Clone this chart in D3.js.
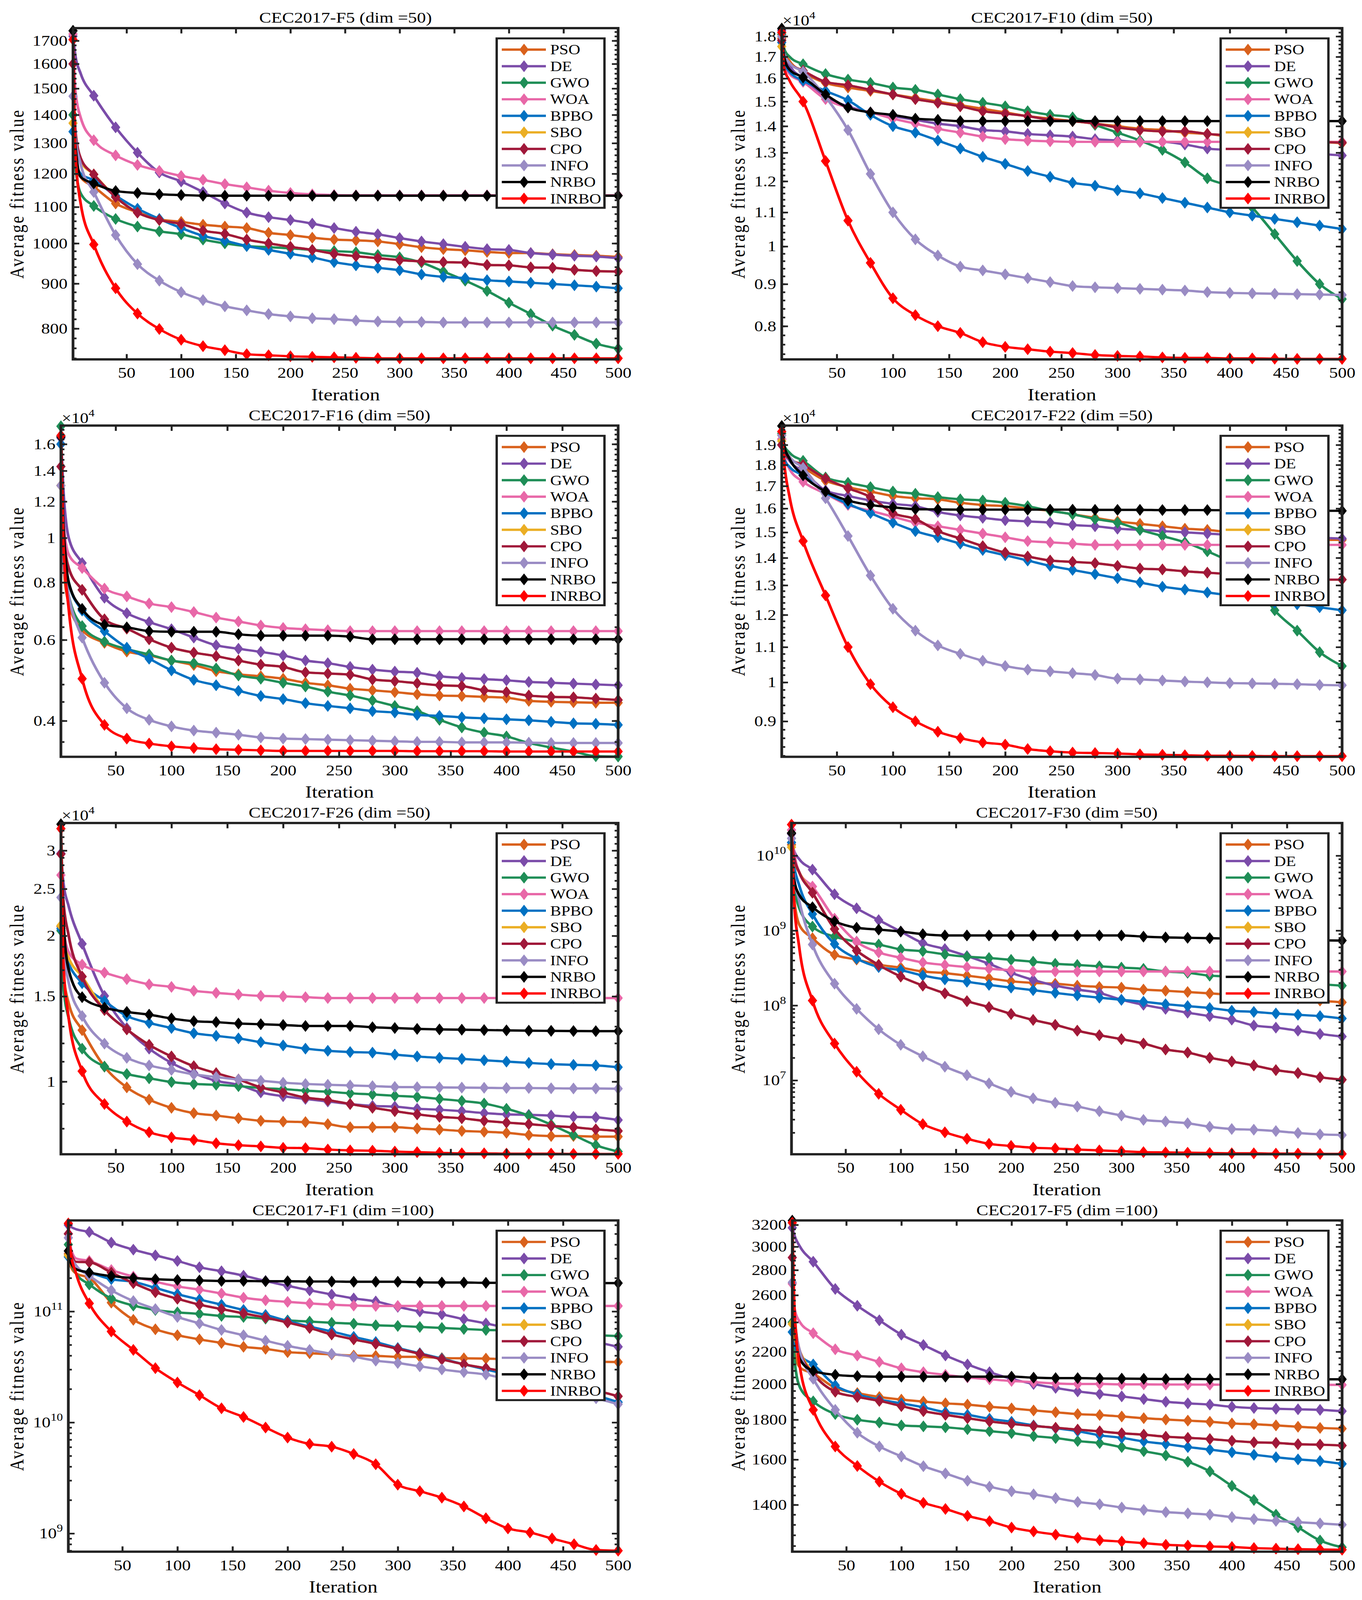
<!DOCTYPE html>
<html>
<head>
<meta charset="utf-8">
<script src="https://cdn.jsdelivr.net/npm/d3@7.9.0/dist/d3.min.js"></script>
<style>
  html, body { margin: 0; padding: 0; width: 100%; height: 100%; overflow: hidden; background: #fff; }
  #chart { display: block; width: 100vw; height: 100vh; }
  svg text { font-family: "Liberation Serif", "Times New Roman", serif; fill: #000; }
</style>
</head>
<body>
<svg id="chart" viewBox="0 0 3488 4835" preserveAspectRatio="none"></svg>
<script>
const iterations = [1, 3, 8, 20, 40, 60, 80, 100, 120, 140, 160, 180, 200, 220, 240, 260, 280, 300, 320, 340, 360, 380, 400, 420, 440, 460, 480, 500];
const algorithms = ['PSO', 'DE', 'GWO', 'WOA', 'BPBO', 'SBO', 'CPO', 'INFO', 'NRBO', 'INRBO'];
const titles = ['CEC2017-F5 (dim =50)', 'CEC2017-F10 (dim =50)', 'CEC2017-F16 (dim =50)', 'CEC2017-F22 (dim =50)',
  'CEC2017-F26 (dim =50)', 'CEC2017-F30 (dim =50)', 'CEC2017-F1 (dim =100)', 'CEC2017-F5 (dim =100)'];
const xTicks = [50, 100, 150, 200, 250, 300, 350, 400, 450, 500];

const yDomains = [[738, 1757], [7290, 18420], [3340, 17560], [8176, 20020], [7080, 34200], [1.03e6, 2.73e10], [6.85e8, 6.6e11], [1219, 3242]];
const yTicks = [
  [800, 900, 1000, 1100, 1200, 1300, 1400, 1500, 1600, 1700],
  [8000, 9000, 10000, 11000, 12000, 13000, 14000, 15000, 16000, 17000, 18000],
  [4000, 6000, 8000, 10000, 12000, 14000, 16000],
  [9000, 10000, 11000, 12000, 13000, 14000, 15000, 16000, 17000, 18000, 19000],
  [10000, 15000, 20000, 25000, 30000],
  [1e7, 1e8, 1e9, 1e10],
  [1e9, 1e10, 1e11],
  [1400, 1600, 1800, 2000, 2200, 2400, 2600, 2800, 3000, 3200]
];
const yTickLabels = [
  ['800', '900', '1000', '1100', '1200', '1300', '1400', '1500', '1600', '1700'],
  ['0.8', '0.9', '1', '1.1', '1.2', '1.3', '1.4', '1.5', '1.6', '1.7', '1.8'],
  ['0.4', '0.6', '0.8', '1', '1.2', '1.4', '1.6'],
  ['0.9', '1', '1.1', '1.2', '1.3', '1.4', '1.5', '1.6', '1.7', '1.8', '1.9'],
  ['1', '1.5', '2', '2.5', '3'],
  ['10^7', '10^8', '10^9', '10^10'],
  ['10^9', '10^10', '10^11'],
  ['1400', '1600', '1800', '2000', '2200', '2400', '2600', '2800', '3000', '3200']
];
const yExponent = [null, 4, 4, 4, 4, null, null, null];

const f5_d50 = {
  PSO: [1400, 1250, 1190, 1160, 1110, 1085, 1065, 1058, 1050, 1045, 1041, 1028, 1022, 1015, 1010, 1008, 1005, 998, 990, 985, 982, 978, 975, 975, 972, 970, 968, 965],
  DE: [1720, 1640, 1560, 1472, 1355, 1268, 1204, 1176, 1144, 1110, 1084, 1071, 1063, 1053, 1041, 1031, 1024, 1014, 1005, 998, 991, 985, 983, 975, 971, 968, 966, 962],
  GWO: [1400, 1230, 1140, 1103, 1066, 1045, 1032, 1024, 1010, 1000, 993, 990, 987, 983, 980, 977, 970, 964, 951, 929, 907, 883, 856, 831, 806, 787, 769, 759],
  WOA: [1730, 1500, 1390, 1310, 1259, 1228, 1209, 1193, 1181, 1168, 1158, 1148, 1141, 1137, 1135, 1134, 1134, 1134, 1134, 1134, 1134, 1134, 1134, 1134, 1134, 1134, 1134, 1134],
  BPBO: [1340, 1250, 1200, 1180, 1133, 1095, 1066, 1041, 1020, 1007, 993, 983, 973, 964, 952, 944, 938, 932, 922, 916, 913, 908, 905, 902, 899, 896, 893, 889],
  SBO: [1370, 1290, 1240, 1198, 1129, 1084, 1063, 1052, 1034, 1025, 1010, 1000, 991, 983, 973, 967, 962, 957, 954, 952, 951, 945, 944, 939, 938, 933, 930, 929],
  CPO: [1600, 1350, 1250, 1198, 1129, 1084, 1063, 1052, 1034, 1025, 1010, 1000, 991, 983, 973, 967, 962, 957, 954, 952, 951, 945, 944, 939, 938, 933, 930, 929],
  INFO: [1470, 1330, 1230, 1144, 1022, 947, 907, 880, 862, 848, 839, 831, 826, 822, 820, 817, 815, 814, 814, 813, 813, 813, 813, 813, 813, 813, 813, 813],
  NRBO: [1745, 1300, 1190, 1170, 1147, 1141, 1137, 1135, 1133, 1133, 1133, 1133, 1133, 1133, 1133, 1133, 1133, 1133, 1133, 1133, 1133, 1133, 1133, 1133, 1133, 1133, 1133, 1133],
  INRBO: [1705, 1280, 1110, 997, 889, 832, 799, 777, 764, 756, 748, 746, 744, 743, 742, 741, 740, 740, 740, 740, 740, 740, 740, 740, 740, 740, 740, 740]
};

const f10_d50 = {
  PSO: [17900, 17300, 16800, 16300, 15800, 15600, 15450, 15300, 15150, 15000, 14850, 14700, 14550, 14400, 14300, 14200, 14100, 14000, 13900, 13850, 13750, 13700, 13600, 13550, 13500, 13450, 13400, 13350],
  DE: [18300, 17200, 16600, 16000, 15200, 14800, 14550, 14400, 14250, 14100, 14000, 13850, 13800, 13700, 13650, 13600, 13500, 13450, 13400, 13400, 13300, 13150, 13100, 13050, 13000, 12980, 12950, 12900],
  GWO: [18100, 17400, 17000, 16650, 16200, 15950, 15800, 15600, 15500, 15300, 15100, 14950, 14800, 14600, 14450, 14350, 14050, 13750, 13450, 13100, 12650, 12100, 11800, 11150, 10350, 9600, 9000, 8630],
  WOA: [17800, 16800, 16200, 15850, 15100, 14750, 14550, 14300, 14100, 13900, 13750, 13600, 13500, 13450, 13420, 13400, 13400, 13400, 13400, 13400, 13400, 13400, 13400, 13400, 13400, 13400, 13400, 13400],
  BPBO: [17700, 16800, 16300, 15900, 15450, 15050, 14450, 14000, 13750, 13450, 13150, 12850, 12600, 12350, 12150, 11950, 11850, 11700, 11600, 11450, 11300, 11150, 11000, 10900, 10800, 10700, 10600, 10500],
  SBO: [17500, 17050, 16700, 16350, 15850, 15700, 15500, 15300, 15100, 14950, 14800, 14600, 14500, 14400, 14250, 14200, 14100, 13950, 13850, 13800, 13800, 13700, 13650, 13600, 13500, 13450, 13400, 13370],
  CPO: [17800, 17100, 16700, 16350, 15850, 15700, 15500, 15300, 15100, 14950, 14800, 14600, 14500, 14400, 14250, 14200, 14100, 13950, 13850, 13800, 13800, 13700, 13650, 13600, 13500, 13450, 13400, 13370],
  INFO: [18000, 17200, 16700, 16300, 15200, 13850, 12250, 11000, 10200, 9750, 9450, 9350, 9250, 9150, 9050, 8950, 8920, 8900, 8880, 8860, 8840, 8800, 8780, 8770, 8760, 8750, 8740, 8730],
  NRBO: [18400, 17000, 16400, 16050, 15300, 14750, 14550, 14450, 14300, 14250, 14200, 14200, 14200, 14200, 14200, 14200, 14200, 14200, 14200, 14200, 14200, 14200, 14200, 14200, 14200, 14200, 14200, 14200],
  INRBO: [18200, 16500, 15900, 15000, 12700, 10750, 9550, 8650, 8250, 8000, 7850, 7650, 7550, 7500, 7450, 7420, 7380, 7360, 7350, 7330, 7320, 7320, 7310, 7310, 7305, 7300, 7300, 7300]
};

const f16_d50 = {
  PSO: [13000, 9000, 7200, 6310, 5910, 5660, 5550, 5410, 5290, 5130, 5050, 5000, 4940, 4840, 4780, 4700, 4660, 4620, 4570, 4540, 4530, 4510, 4490, 4420, 4400, 4390, 4380, 4380],
  DE: [16500, 13000, 10000, 8820, 7410, 6860, 6560, 6330, 6070, 5840, 5740, 5650, 5550, 5410, 5340, 5240, 5170, 5120, 5090, 5000, 4960, 4930, 4900, 4860, 4840, 4820, 4800, 4780],
  GWO: [17500, 10000, 7500, 6430, 5950, 5730, 5580, 5410, 5340, 5200, 5020, 4940, 4840, 4750, 4630, 4540, 4430, 4310, 4200, 4020, 3870, 3770, 3700, 3580, 3500, 3430, 3350, 3345],
  WOA: [16000, 11000, 9200, 8600, 7760, 7460, 7200, 7070, 6900, 6710, 6580, 6450, 6370, 6330, 6300, 6270, 6270, 6270, 6270, 6270, 6270, 6270, 6270, 6270, 6270, 6270, 6270, 6270],
  BPBO: [16000, 10500, 8000, 6950, 6270, 5770, 5460, 5150, 4910, 4780, 4650, 4530, 4460, 4370, 4310, 4260, 4200, 4170, 4120, 4100, 4070, 4050, 4030, 4010, 3980, 3950, 3940, 3920],
  SBO: [13000, 10000, 8600, 7710, 6650, 6350, 6020, 5770, 5630, 5530, 5410, 5300, 5240, 5100, 5070, 5040, 4920, 4880, 4830, 4780, 4760, 4660, 4620, 4540, 4510, 4500, 4470, 4440],
  CPO: [14300, 10500, 8600, 7710, 6650, 6350, 6020, 5770, 5630, 5530, 5410, 5300, 5240, 5100, 5070, 5040, 4920, 4880, 4830, 4780, 4760, 4660, 4620, 4540, 4510, 4500, 4470, 4440],
  INFO: [13000, 9000, 7500, 6070, 4840, 4260, 4020, 3890, 3810, 3770, 3730, 3680, 3660, 3650, 3640, 3630, 3620, 3610, 3600, 3600, 3590, 3590, 3590, 3585, 3580, 3580, 3580, 3580],
  NRBO: [16600, 11000, 8000, 7010, 6470, 6390, 6270, 6250, 6250, 6250, 6170, 6130, 6130, 6130, 6130, 6100, 6020, 6020, 6020, 6020, 6020, 6020, 6020, 6020, 6020, 6020, 6020, 6020],
  INRBO: [16700, 10000, 7000, 4940, 3920, 3660, 3570, 3520, 3490, 3470, 3460, 3450, 3440, 3440, 3440, 3440, 3440, 3440, 3435, 3435, 3435, 3435, 3430, 3430, 3430, 3430, 3430, 3430]
};

const f22_d50 = {
  PSO: [19500, 18900, 18400, 17900, 17250, 16950, 16750, 16550, 16450, 16400, 16250, 16150, 16100, 16000, 15900, 15750, 15600, 15450, 15350, 15250, 15150, 15100, 15000, 14900, 14800, 14750, 14700, 14700],
  DE: [19300, 18700, 18200, 17700, 16800, 16550, 16350, 16200, 16100, 15850, 15700, 15600, 15500, 15450, 15400, 15300, 15250, 15150, 15100, 15050, 15000, 14950, 14900, 14870, 14830, 14800, 14780, 14750],
  GWO: [19600, 19000, 18600, 18200, 17400, 17150, 16950, 16750, 16650, 16500, 16400, 16350, 16250, 16100, 15900, 15750, 15550, 15400, 15100, 14850, 14600, 14250, 13850, 13300, 12150, 11500, 10850, 10450],
  WOA: [19300, 18500, 17800, 17200, 16650, 16150, 15900, 15650, 15400, 15250, 15100, 14950, 14800, 14650, 14600, 14550, 14500, 14500, 14500, 14500, 14500, 14500, 14500, 14500, 14500, 14500, 14500, 14500],
  BPBO: [19000, 18300, 17900, 17500, 16700, 16200, 15800, 15400, 15050, 14800, 14550, 14300, 14100, 13900, 13700, 13550, 13400, 13250, 13100, 12950, 12850, 12750, 12650, 12550, 12400, 12350, 12250, 12150],
  SBO: [19200, 18700, 18300, 18000, 17350, 16900, 16500, 15800, 15550, 15050, 14750, 14450, 14200, 14050, 13900, 13850, 13800, 13700, 13600, 13570, 13500, 13450, 13400, 13350, 13300, 13250, 13200, 13200],
  CPO: [19000, 18600, 18300, 18000, 17350, 16900, 16500, 15800, 15550, 15050, 14750, 14450, 14200, 14050, 13900, 13850, 13800, 13700, 13600, 13570, 13500, 13450, 13400, 13350, 13300, 13250, 13200, 13200],
  INFO: [19500, 18900, 18400, 17850, 16450, 14850, 13350, 12200, 11500, 11050, 10800, 10600, 10450, 10350, 10300, 10250, 10200, 10100, 10080, 10050, 10020, 10000, 9980, 9970, 9960, 9950, 9930, 9920],
  NRBO: [20000, 19000, 18300, 17500, 16750, 16350, 16150, 16050, 15970, 15960, 15950, 15950, 15950, 15950, 15950, 15950, 15940, 15940, 15940, 15930, 15930, 15930, 15920, 15920, 15920, 15910, 15900, 15900],
  INRBO: [19700, 18200, 16500, 14650, 12650, 11000, 9950, 9350, 9000, 8750, 8600, 8500, 8450, 8350, 8300, 8270, 8260, 8250, 8230, 8220, 8210, 8200, 8200, 8195, 8190, 8190, 8190, 8190]
};

const f26_d50 = {
  PSO: [20900, 17000, 14500, 12770, 10740, 9730, 9180, 8830, 8610, 8510, 8400, 8300, 8270, 8250, 8170, 8050, 8050, 8050, 8000, 7960, 7910, 7880, 7840, 7760, 7720, 7720, 7700, 7700],
  DE: [29600, 26000, 23000, 19250, 15030, 12900, 11700, 10930, 10410, 10040, 9850, 9500, 9330, 9210, 9100, 8990, 8910, 8880, 8790, 8750, 8690, 8610, 8560, 8540, 8510, 8460, 8440, 8330],
  GWO: [20500, 16000, 13500, 11700, 10740, 10370, 10160, 9980, 9890, 9850, 9790, 9700, 9650, 9580, 9530, 9460, 9410, 9350, 9300, 9210, 9120, 9010, 8790, 8510, 8150, 7760, 7390, 7170],
  WOA: [26700, 21000, 18500, 17450, 16790, 16280, 15880, 15690, 15400, 15250, 15130, 15030, 15000, 14940, 14880, 14880, 14880, 14880, 14880, 14880, 14880, 14880, 14880, 14880, 14880, 14880, 14880, 14880],
  BPBO: [20700, 18800, 17500, 15970, 14670, 13660, 13220, 12900, 12590, 12430, 12280, 12060, 11880, 11700, 11580, 11510, 11480, 11370, 11270, 11200, 11140, 11070, 11000, 10930, 10870, 10830, 10800, 10710],
  SBO: [21000, 19500, 18000, 16480, 14050, 12820, 11910, 11270, 10760, 10410, 10100, 9730, 9500, 9270, 9160, 8990, 8830, 8690, 8560, 8460, 8400, 8300, 8230, 8170, 8100, 8050, 7970, 7910],
  CPO: [29500, 24000, 20000, 16480, 14050, 12820, 11910, 11270, 10760, 10410, 10100, 9730, 9500, 9270, 9160, 8990, 8830, 8690, 8560, 8460, 8400, 8300, 8230, 8170, 8100, 8050, 7970, 7910],
  INFO: [24000, 19000, 16000, 13660, 11980, 11200, 10800, 10570, 10350, 10220, 10100, 10040, 9950, 9890, 9850, 9820, 9790, 9750, 9740, 9730, 9720, 9710, 9700, 9700, 9690, 9680, 9680, 9670],
  NRBO: [34000, 22000, 17000, 14940, 14220, 13930, 13750, 13500, 13330, 13270, 13180, 13140, 13090, 13030, 13030, 13030, 12950, 12900, 12850, 12820, 12800, 12780, 12760, 12740, 12730, 12720, 12710, 12710],
  INRBO: [33300, 18000, 13500, 10510, 8990, 8270, 7860, 7670, 7580, 7460, 7390, 7350, 7300, 7290, 7240, 7210, 7200, 7170, 7150, 7130, 7110, 7110, 7100, 7100, 7100, 7090, 7090, 7090]
};

const f30_d50 = {
  PSO: [1.4e10, 3e9, 1.2e9, 7.9e8, 4.75e8, 4.1e8, 3.5e8, 3.2e8, 2.84e8, 2.7e8, 2.5e8, 2.3e8, 2.1e8, 2.0e8, 1.95e8, 1.84e8, 1.77e8, 1.73e8, 1.63e8, 1.57e8, 1.51e8, 1.45e8, 1.39e8, 1.34e8, 1.29e8, 1.24e8, 1.16e8, 1.1e8],
  DE: [1.95e10, 1.2e10, 9e9, 6.5e9, 3.05e9, 1.98e9, 1.38e9, 9.7e8, 6.8e8, 5.66e8, 4.57e8, 3.6e8, 2.73e8, 2.19e8, 1.84e8, 1.63e8, 1.47e8, 1.19e8, 1.02e8, 9.0e7, 8.0e7, 7.2e7, 6.46e7, 5.4e7, 5.06e7, 4.6e7, 4.16e7, 3.84e7],
  GWO: [2.0e10, 5e9, 2e9, 1.13e9, 8.3e8, 7.1e8, 6.5e8, 5.6e8, 5.3e8, 4.8e8, 4.47e8, 4.3e8, 4.06e8, 3.84e8, 3.6e8, 3.47e8, 3.33e8, 3.2e8, 3.08e8, 2.84e8, 2.73e8, 2.5e8, 2.43e8, 2.3e8, 2.15e8, 2.04e8, 1.92e8, 1.84e8],
  WOA: [2.2e10, 1.2e10, 6e9, 3.87e9, 1.44e9, 7.1e8, 5.1e8, 4.33e8, 3.75e8, 3.47e8, 3.25e8, 3.08e8, 2.96e8, 2.84e8, 2.84e8, 2.84e8, 2.84e8, 2.84e8, 2.84e8, 2.84e8, 2.84e8, 2.84e8, 2.84e8, 2.84e8, 2.84e8, 2.84e8, 2.84e8, 2.84e8],
  BPBO: [1.5e10, 8e9, 4e9, 1.66e9, 6.6e8, 4.22e8, 3.25e8, 2.96e8, 2.51e8, 2.23e8, 2.07e8, 1.88e8, 1.73e8, 1.6e8, 1.47e8, 1.36e8, 1.27e8, 1.19e8, 1.12e8, 1.04e8, 9.8e7, 9.25e7, 8.5e7, 8.2e7, 7.8e7, 7.5e7, 7.2e7, 6.7e7],
  SBO: [1.3e10, 9e9, 6e9, 3.2e9, 1.05e9, 5.4e8, 3.47e8, 2.43e8, 1.84e8, 1.45e8, 1.14e8, 9.5e7, 7.7e7, 6.4e7, 5.5e7, 4.6e7, 4.0e7, 3.55e7, 3.1e7, 2.58e7, 2.35e7, 2.0e7, 1.78e7, 1.58e7, 1.37e7, 1.25e7, 1.1e7, 1.02e7],
  CPO: [2.0e10, 1.0e10, 6e9, 3.2e9, 1.05e9, 5.4e8, 3.47e8, 2.43e8, 1.84e8, 1.45e8, 1.14e8, 9.5e7, 7.7e7, 6.4e7, 5.5e7, 4.6e7, 4.0e7, 3.55e7, 3.1e7, 2.58e7, 2.35e7, 2.0e7, 1.78e7, 1.58e7, 1.37e7, 1.25e7, 1.1e7, 1.02e7],
  INFO: [1.7e10, 6e9, 2.5e9, 6.5e8, 1.95e8, 9.0e7, 4.8e7, 2.98e7, 2.09e7, 1.52e7, 1.17e7, 9.1e6, 7.0e6, 5.75e6, 5.0e6, 4.47e6, 3.87e6, 3.39e6, 2.96e6, 2.82e6, 2.67e6, 2.4e6, 2.24e6, 2.19e6, 2.1e6, 1.98e6, 1.9e6, 1.86e6],
  NRBO: [2.0e10, 5e9, 3e9, 2.05e9, 1.33e9, 1.09e9, 1.03e9, 9.7e8, 8.95e8, 8.6e8, 8.6e8, 8.6e8, 8.6e8, 8.6e8, 8.6e8, 8.6e8, 8.6e8, 8.6e8, 8.3e8, 8.1e8, 8.0e8, 7.9e8, 7.8e8, 7.7e8, 7.6e8, 7.5e8, 7.4e8, 7.35e8],
  INRBO: [2.6e10, 3e9, 6e8, 1.16e8, 3.1e7, 1.3e7, 6.6e6, 4.05e6, 2.6e6, 2.02e6, 1.66e6, 1.42e6, 1.33e6, 1.26e6, 1.23e6, 1.19e6, 1.16e6, 1.13e6, 1.1e6, 1.09e6, 1.08e6, 1.07e6, 1.06e6, 1.06e6, 1.05e6, 1.05e6, 1.04e6, 1.04e6]
};

const f1_d100 = {
  PSO: [3.3e11, 2.6e11, 2.2e11, 2.0e11, 1.2e11, 8.4e10, 6.9e10, 6.1e10, 5.6e10, 5.2e10, 4.8e10, 4.6e10, 4.3e10, 4.2e10, 4.1e10, 4.0e10, 3.98e10, 3.9e10, 3.9e10, 3.8e10, 3.78e10, 3.76e10, 3.7e10, 3.65e10, 3.6e10, 3.55e10, 3.52e10, 3.5e10],
  DE: [6.0e11, 5.8e11, 5.5e11, 5.2e11, 4.17e11, 3.6e11, 3.2e11, 2.85e11, 2.5e11, 2.3e11, 2.1e11, 1.88e11, 1.7e11, 1.55e11, 1.42e11, 1.31e11, 1.23e11, 1.1e11, 1.0e11, 9.4e10, 8.5e10, 7.8e10, 7.1e10, 6.7e10, 6.1e10, 5.75e10, 5.3e10, 4.8e10],
  GWO: [4.0e11, 3.0e11, 2.2e11, 1.75e11, 1.31e11, 1.13e11, 1.03e11, 9.8e10, 9.5e10, 9.1e10, 8.9e10, 8.6e10, 8.3e10, 8.1e10, 7.9e10, 7.75e10, 7.5e10, 7.4e10, 7.25e10, 7.1e10, 6.95e10, 6.8e10, 6.75e10, 6.6e10, 6.4e10, 6.2e10, 6.1e10, 6.0e10],
  WOA: [5.0e11, 3.8e11, 3.0e11, 2.85e11, 2.36e11, 2.06e11, 1.85e11, 1.68e11, 1.57e11, 1.45e11, 1.33e11, 1.26e11, 1.22e11, 1.18e11, 1.15e11, 1.13e11, 1.12e11, 1.12e11, 1.12e11, 1.12e11, 1.12e11, 1.12e11, 1.12e11, 1.12e11, 1.12e11, 1.12e11, 1.12e11, 1.12e11],
  BPBO: [3.1e11, 2.8e11, 2.4e11, 2.24e11, 1.95e11, 1.85e11, 1.63e11, 1.43e11, 1.28e11, 1.15e11, 1.03e11, 9.3e10, 8.2e10, 7.3e10, 6.6e10, 5.9e10, 5.3e10, 4.68e10, 4.2e10, 3.76e10, 3.34e10, 3.0e10, 2.7e10, 2.44e10, 2.19e10, 1.95e10, 1.75e10, 1.52e10],
  SBO: [3.2e11, 3.0e11, 2.8e11, 2.77e11, 2.24e11, 1.8e11, 1.49e11, 1.3e11, 1.15e11, 1.05e11, 9.6e10, 8.8e10, 7.95e10, 7.1e10, 6.2e10, 5.6e10, 5.1e10, 4.6e10, 4.15e10, 3.7e10, 3.34e10, 3.08e10, 2.84e10, 2.6e10, 2.38e10, 2.16e10, 1.94e10, 1.72e10],
  CPO: [5.0e11, 3.5e11, 2.8e11, 2.77e11, 2.24e11, 1.8e11, 1.49e11, 1.3e11, 1.15e11, 1.05e11, 9.6e10, 8.8e10, 7.95e10, 7.1e10, 6.2e10, 5.6e10, 5.1e10, 4.6e10, 4.15e10, 3.7e10, 3.34e10, 3.08e10, 2.84e10, 2.6e10, 2.38e10, 2.16e10, 1.94e10, 1.72e10],
  INFO: [4.6e11, 3.2e11, 2.6e11, 2.1e11, 1.55e11, 1.24e11, 1.05e11, 8.9e10, 7.8e10, 6.8e10, 6.1e10, 5.45e10, 4.9e10, 4.5e10, 4.15e10, 3.9e10, 3.6e10, 3.43e10, 3.2e10, 3.0e10, 2.84e10, 2.7e10, 2.44e10, 2.22e10, 2.03e10, 1.84e10, 1.65e10, 1.46e10],
  NRBO: [3.5e11, 2.8e11, 2.4e11, 2.24e11, 2.08e11, 2.0e11, 1.95e11, 1.92e11, 1.9e11, 1.88e11, 1.88e11, 1.87e11, 1.87e11, 1.86e11, 1.86e11, 1.85e11, 1.85e11, 1.85e11, 1.83e11, 1.82e11, 1.82e11, 1.81e11, 1.81e11, 1.8e11, 1.8e11, 1.8e11, 1.8e11, 1.8e11],
  INRBO: [6.2e11, 3.5e11, 2.2e11, 1.18e11, 6.6e10, 4.5e10, 3.08e10, 2.29e10, 1.76e10, 1.34e10, 1.12e10, 9.0e9, 7.3e9, 6.4e9, 6.05e9, 5.2e9, 4.2e9, 2.75e9, 2.4e9, 2.1e9, 1.75e9, 1.37e9, 1.11e9, 1.02e9, 9.0e8, 8.0e8, 7.1e8, 7.0e8]
};

const f5_d100 = {
  PSO: [2400, 2200, 2100, 2063, 1977, 1947, 1925, 1910, 1899, 1889, 1882, 1870, 1861, 1850, 1840, 1830, 1825, 1817, 1808, 1801, 1795, 1789, 1780, 1776, 1770, 1763, 1757, 1753],
  DE: [3172, 3100, 3000, 2870, 2648, 2520, 2414, 2314, 2244, 2176, 2119, 2071, 2031, 2000, 1977, 1957, 1942, 1928, 1913, 1898, 1889, 1882, 1870, 1863, 1859, 1856, 1853, 1846],
  GWO: [2400, 2150, 1980, 1900, 1830, 1800, 1785, 1770, 1765, 1760, 1750, 1740, 1730, 1715, 1705, 1690, 1680, 1660, 1640, 1620, 1590, 1545, 1480, 1420, 1360, 1310, 1260, 1235],
  WOA: [2689, 2500, 2400, 2324, 2216, 2175, 2135, 2095, 2071, 2055, 2039, 2028, 2018, 2011, 2003, 2000, 2000, 1998, 1998, 1997, 1997, 1996, 1996, 1995, 1995, 1995, 1995, 1995],
  BPBO: [2332, 2250, 2180, 2119, 1992, 1940, 1910, 1889, 1867, 1840, 1826, 1805, 1789, 1770, 1755, 1740, 1719, 1706, 1688, 1675, 1660, 1648, 1635, 1623, 1611, 1601, 1593, 1580],
  SBO: [2388, 2300, 2200, 2063, 1955, 1925, 1903, 1874, 1846, 1826, 1808, 1791, 1778, 1767, 1758, 1748, 1739, 1729, 1722, 1712, 1706, 1700, 1691, 1684, 1681, 1674, 1672, 1668],
  CPO: [2906, 2450, 2200, 2063, 1955, 1925, 1903, 1874, 1846, 1826, 1808, 1791, 1778, 1767, 1758, 1748, 1739, 1729, 1722, 1712, 1706, 1700, 1691, 1684, 1681, 1674, 1672, 1668],
  INFO: [2700, 2400, 2200, 2031, 1853, 1732, 1663, 1615, 1569, 1536, 1503, 1477, 1457, 1444, 1428, 1412, 1402, 1389, 1379, 1370, 1365, 1360, 1350, 1342, 1335, 1330, 1325, 1320],
  NRBO: [3240, 2400, 2150, 2079, 2055, 2047, 2044, 2044, 2044, 2044, 2044, 2044, 2044, 2038, 2035, 2035, 2033, 2032, 2031, 2030, 2030, 2029, 2029, 2028, 2028, 2028, 2028, 2028],
  INRBO: [3220, 2500, 2100, 1853, 1663, 1570, 1499, 1446, 1408, 1383, 1355, 1334, 1309, 1294, 1282, 1270, 1261, 1256, 1250, 1244, 1241, 1238, 1236, 1232, 1230, 1228, 1227, 1226]
};

const panels = [f5_d50, f10_d50, f16_d50, f22_d50, f26_d50, f30_d50, f1_d100, f5_d100];

const colors = ['#D9611C', '#7B4CA9', '#1F8E57', '#E868A8', '#0071C2', '#EBAE24', '#A0183A', '#9A8CC4', '#000000', '#FF0000'];
const plotLeft = [187, 2002, 156, 2002, 156, 2027, 175, 2029];
const plotRight = [1583, 3437];
const yLabelX = [43, 1890];
const fontFamily = '"Liberation Serif", "Times New Roman", serif';
const tickFont = 45;

const svg = d3.select('#chart');
svg.append('rect').attr('width', 3488).attr('height', 4835).attr('fill', '#fff');
const defs = svg.append('defs');

const diamond = 'M0,-18L12,0L0,18L-12,0Z';

function setLabel(sel, label, size) {
  let [base, exp] = label.split('^');
  sel.text(base);
  if (exp) sel.append('tspan').attr('dy', -20).attr('font-size', size * 0.7).text(exp);
}

function minorTicks(i) {
  let [lo, hi] = yDomains[i];
  let out = [];
  if (yTicks[i][0] >= 1e7) {
    for (let e = Math.floor(Math.log10(lo)); e <= Math.ceil(Math.log10(hi)); e++) {
      for (let k = 2; k <= 9; k++) {
        let v = k * Math.pow(10, e);
        if (v > lo && v < hi) out.push(v);
      }
    }
  } else {
    let step = (yTicks[i][1] - yTicks[i][0]) / 5;
    for (let v = Math.ceil(lo / step) * step; v < hi; v += step) out.push(v);
  }
  return out;
}

panels.forEach((data, i) => {
  let col = i % 2, row = Math.floor(i / 2);
  let left = plotLeft[i], right = plotRight[col];
  let top = 85 + row * 1201, bottom = top + 1001;

  let x = d3.scaleLinear().domain([1, 500]).range([left, right]);
  let y = d3.scaleLog().domain(yDomains[i]).range([bottom, top]);

  let g = svg.append('g');

  defs.append('clipPath').attr('id', `clip${i}`)
    .append('rect').attr('x', left).attr('y', top - 4).attr('width', right - left).attr('height', bottom - top + 8);

  let line = d3.line()
    .x((d) => x(d.it))
    .y((d) => y(d.v))
    .curve(d3.curveMonotoneX);

  algorithms.forEach((name, k) => {
    let pts = iterations.map((it, j) => ({ it, v: data[name][j] }));
    g.append('path')
      .attr('d', line(pts))
      .attr('fill', 'none')
      .attr('stroke', colors[k])
      .attr('stroke-width', 7)
      .attr('stroke-linejoin', 'round')
      .attr('clip-path', `url(#clip${i})`);
    g.append('g').selectAll('path')
      .data(pts.filter((p) => p.it === 1 || p.it % 20 === 0))
      .join('path')
      .attr('d', diamond)
      .attr('transform', (p) => `translate(${x(p.it)},${y(p.v)})`)
      .attr('fill', colors[k]);
  });

  // axes: ticks point inward on all four sides
  let styleAxis = (a) => {
    a.attr('font-family', fontFamily).attr('font-size', tickFont);
    a.select('.domain').remove();
    a.selectAll('.tick line').attr('stroke', '#222').attr('stroke-width', 5);
    a.selectAll('.tick text').attr('fill', '#000');
  };

  g.append('g').attr('transform', `translate(0,${bottom})`)
    .call(d3.axisBottom(x).tickValues(xTicks).tickSize(-16).tickSizeOuter(0).tickPadding(24))
    .call(styleAxis);
  g.append('g').attr('transform', `translate(0,${top})`)
    .call(d3.axisTop(x).tickValues(xTicks).tickSize(-16).tickSizeOuter(0).tickFormat(''))
    .call(styleAxis);

  let yl = g.append('g').attr('transform', `translate(${left},0)`)
    .call(d3.axisLeft(y).tickValues(yTicks[i]).tickSize(-16).tickSizeOuter(0).tickPadding(14)
      .tickFormat((d) => yTickLabels[i][yTicks[i].indexOf(d)]))
    .call(styleAxis);
  yl.selectAll('.tick text').each(function (d) {
    setLabel(d3.select(this), yTickLabels[i][yTicks[i].indexOf(d)], tickFont);
  });
  g.append('g').attr('transform', `translate(${right},0)`)
    .call(d3.axisRight(y).tickValues(yTicks[i]).tickSize(-16).tickSizeOuter(0).tickFormat(''))
    .call(styleAxis);
  let minor = minorTicks(i);
  g.append('g').attr('transform', `translate(${left},0)`)
    .call(d3.axisLeft(y).tickValues(minor).tickSize(-9).tickSizeOuter(0).tickFormat(''))
    .call(styleAxis);
  g.append('g').attr('transform', `translate(${right},0)`)
    .call(d3.axisRight(y).tickValues(minor).tickSize(-9).tickSizeOuter(0).tickFormat(''))
    .call(styleAxis);

  g.append('rect')
    .attr('x', left).attr('y', top)
    .attr('width', right - left).attr('height', bottom - top)
    .attr('fill', 'none').attr('stroke', '#222').attr('stroke-width', 7);

  if (yExponent[i]) {
    g.append('text').attr('x', left + 2).attr('y', top - 8).attr('font-size', 44)
      .call((t) => setLabel(t, `\u00d710^${yExponent[i]}`, 44));
  }

  g.append('text')
    .attr('x', (left + right) / 2).attr('y', top - 16)
    .attr('text-anchor', 'middle').attr('font-size', 46)
    .text(titles[i]);

  g.append('text')
    .attr('x', (left + right) / 2).attr('y', bottom + 124)
    .attr('text-anchor', 'middle').attr('font-size', 52)
    .text('Iteration');

  g.append('text')
    .attr('transform', `translate(${yLabelX[col]},${(top + bottom) / 2}) rotate(-90)`)
    .attr('text-anchor', 'middle').attr('dominant-baseline', 'central')
    .attr('font-size', 50).attr('letter-spacing', 4)
    .text('Average fitness value');

  // legend
  let lx = right - 311, ly = top + 31;
  let legend = g.append('g');
  legend.append('rect')
    .attr('x', lx).attr('y', ly).attr('width', 276).attr('height', 512)
    .attr('fill', '#fff').attr('stroke', '#222').attr('stroke-width', 6);
  algorithms.forEach((name, k) => {
    let yy = ly + 34 + k * 50;
    legend.append('line')
      .attr('x1', lx + 13).attr('x2', lx + 126).attr('y1', yy).attr('y2', yy)
      .attr('stroke', colors[k]).attr('stroke-width', 7);
    legend.append('path').attr('d', diamond)
      .attr('transform', `translate(${lx + 70},${yy})`).attr('fill', colors[k]);
    legend.append('text')
      .attr('x', lx + 137).attr('y', yy).attr('dominant-baseline', 'central')
      .attr('font-size', 42).text(name);
  });
});
</script>
</body>
</html>
